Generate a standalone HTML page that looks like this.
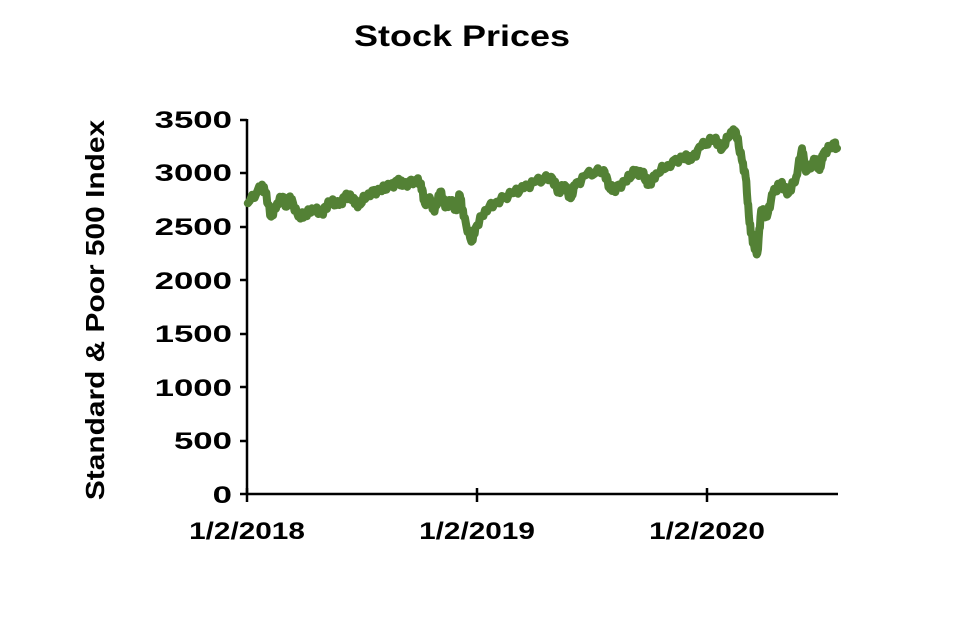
<!DOCTYPE html>
<html><head><meta charset="utf-8"><style>
body{margin:0;background:#fff;}
svg{display:block;font-family:"Liberation Sans",Arial,sans-serif;font-weight:bold;}
</style></head><body>
<svg id="s" width="959" height="631" viewBox="0 0 959 631">
<text transform="translate(462,46) scale(1.2,1)" font-size="30" text-anchor="middle">Stock Prices</text>
<text transform="translate(104,310) rotate(-90) scale(1.15,1)" font-size="26" text-anchor="middle">Standard &amp; Poor 500 Index</text>
<g font-size="24" text-anchor="end">
<text transform="translate(232,503) scale(1.45,1)">0</text>
<text transform="translate(232,449) scale(1.45,1)">500</text>
<text transform="translate(232,396) scale(1.45,1)">1000</text>
<text transform="translate(232,342) scale(1.45,1)">1500</text>
<text transform="translate(232,289) scale(1.45,1)">2000</text>
<text transform="translate(232,235) scale(1.45,1)">2500</text>
<text transform="translate(232,181) scale(1.45,1)">3000</text>
<text transform="translate(232,128) scale(1.45,1)">3500</text>
</g>
<g font-size="24" text-anchor="middle">
<text transform="translate(247,539) scale(1.24,1)">1/2/2018</text>
<text transform="translate(477,539) scale(1.24,1)">1/2/2019</text>
<text transform="translate(707,539) scale(1.24,1)">1/2/2020</text>
</g>
<g stroke="#000" stroke-width="2.5" fill="none">
<line x1="247" y1="119" x2="247" y2="495"/>
<line x1="246" y1="494" x2="838" y2="494"/>
<line x1="240" y1="120" x2="247" y2="120"/>
<line x1="240" y1="173" x2="247" y2="173"/>
<line x1="240" y1="227" x2="247" y2="227"/>
<line x1="240" y1="280" x2="247" y2="280"/>
<line x1="240" y1="334" x2="247" y2="334"/>
<line x1="240" y1="387" x2="247" y2="387"/>
<line x1="240" y1="441" x2="247" y2="441"/>
<line x1="240" y1="494" x2="247" y2="494"/>
<line x1="247" y1="488" x2="247" y2="502"/>
<line x1="477" y1="488" x2="477" y2="502"/>
<line x1="707" y1="488" x2="707" y2="502"/>
</g>
<polyline id="p" fill="none" stroke="#538135" stroke-width="8" stroke-linejoin="round" stroke-linecap="round"/>
</svg>
<script>
var z=[[20,280],[55,230],[65,245],[80,320],[95,280],[110,260],[120,290],[130,265],[150,320],[165,315],[185,295],[210,310],[230,275],[255,285],[270,260],[290,265],[305,285],[330,250],[360,240],[385,230],[405,215],[420,225],[450,210],[465,220],[475,280],[490,270],[500,305],[515,245],[530,290],[545,270],[555,300],[565,255],[575,320],[595,395],[605,355],[630,300],[660,275],[700,250],[730,235],[760,215],[800,200],[820,245],[835,225],[850,265],[860,230],[890,195],[935,180],[950,230],[960,240],[990,215],[1015,185],[1035,190],[1050,225],[1070,190],[1100,165],[1140,140],[1160,150],[1185,110],[1220,85],[1240,115],[1262,65],[1275,65],[1290,150],[1300,200],[1310,340],[1320,400],[1330,430],[1340,300],[1355,320],[1370,250],[1390,220],[1410,250],[1430,200],[1445,115],[1455,185],[1480,150],[1490,180],[1500,130],[1525,100],[1535,115]];
var pts=[];
for(var i=0;i<z.length;i++){var x=240+z[i][0]/2.571,y=110+z[i][1]/3;
if(i>0){var px=240+z[i-1][0]/2.571,py=110+z[i-1][1]/3;
for(var k=1;k<6;k++){var t=k/6;pts.push((px+(x-px)*t).toFixed(1)+","+(py+(y-py)*t+(Math.sin(i*7.3+k*2.1)*3.5)).toFixed(1));}}
pts.push(x.toFixed(1)+","+y.toFixed(1));}
document.getElementById("p").setAttribute("points",pts.join(" "));
</script>
</body></html>
